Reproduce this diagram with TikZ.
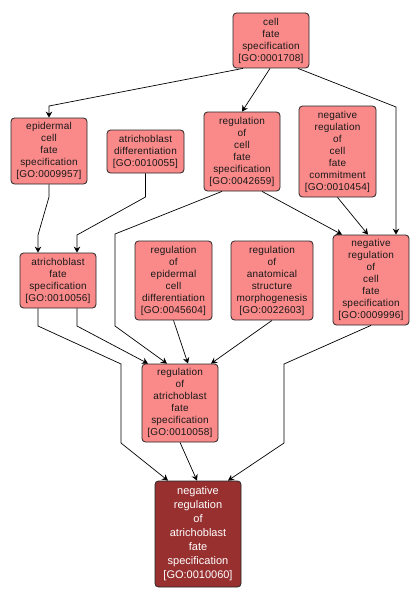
\documentclass[tikz,border=0pt]{standalone}
\usepackage{fontspec}
\setmainfont{Liberation Sans}
\newfontfamily\gofont[LetterSpace=2]{Liberation Sans}
\usetikzlibrary{arrows.meta}
\definecolor{gopink}{RGB}{250,137,137}
\definecolor{godark}{RGB}{152,48,48}
\tikzset{
  gobox/.style={draw=black!85, line width=0.8pt, rounded corners=3.5pt, fill=gopink, inner sep=0pt, align=center,
    font=\gofont\fontsize{10}{12}\selectfont, text=black!90},
  gofinal/.style={gobox, fill=godark, text=white, font=\fontsize{11}{14}\selectfont},
  golink/.style={draw=black, line width=0.7pt, -{Stealth[length=6pt,width=6.5pt,inset=2pt]}},
}
\begin{document}
\begin{tikzpicture}[x=1pt,y=-1pt]
\useasboundingbox (0,0) rectangle (420,602);
% nodes
\node[gobox, minimum width=76pt, minimum height=55pt] (n1) at (271,40.5) {cell\\fate\\specification\\{[GO:0001708]}};
\node[gobox, minimum width=76pt, minimum height=66pt] (epi) at (49,151) {epidermal\\cell\\fate\\specification\\{[GO:0009957]}};
\node[gobox, minimum width=77pt, minimum height=43pt] (adiff) at (145.5,151.5) {atrichoblast\\differentiation\\{[GO:0010055]}};
\node[gobox, minimum width=76pt, minimum height=79pt] (rcf) at (242,151.5) {regulation\\of\\cell\\fate\\specification\\{[GO:0042659]}};
\node[gobox, minimum width=77pt, minimum height=91pt] (nrcfc) at (337.5,151.5) {negative\\regulation\\of\\cell\\fate\\commitment\\{[GO:0010454]}};
\node[gobox, minimum width=76pt, minimum height=55pt] (afs) at (58,280.5) {atrichoblast\\fate\\specification\\{[GO:0010056]}};
\node[gobox, minimum width=77pt, minimum height=79pt] (red) at (173.5,280.5) {regulation\\of\\epidermal\\cell\\differentiation\\{[GO:0045604]}};
\node[gobox, minimum width=82pt, minimum height=79pt] (rasm) at (272,280.5) {regulation\\of\\anatomical\\structure\\morphogenesis\\{[GO:0022603]}};
\node[gobox, minimum width=76pt, minimum height=90pt] (nrcfs) at (371,280) {negative\\regulation\\of\\cell\\fate\\specification\\{[GO:0009996]}};
\node[gobox, minimum width=76pt, minimum height=78pt] (rafs) at (180,403) {regulation\\of\\atrichoblast\\fate\\specification\\{[GO:0010058]}};
\node[gofinal, minimum width=86pt, minimum height=106pt] (nrafs) at (198,534) {negative\\regulation\\of\\atrichoblast\\fate\\specification\\{[GO:0010060]}};
% bend points
\coordinate (b1) at (49,106);
\coordinate (b3) at (396,107);
\coordinate (b4a) at (49,197);
\coordinate (b4b) at (38,235);
\coordinate (b5a) at (145.5,197);
\coordinate (b5b) at (77,235);
\coordinate (b6a) at (115,234);
\coordinate (b6b) at (115,326);
\coordinate (b9) at (77,326);
\coordinate (b10a) at (38,326);
\coordinate (b10b) at (121,364);
\coordinate (b10c) at (121,443);
\coordinate (b13a) at (284,364);
\coordinate (b13b) at (284,443);
% edges
\draw[golink] ([xshift=-28pt]n1.south) -- (b1) -- (epi.north);
\draw[golink] ([xshift=-1pt]n1.south) -- (rcf.north);
\draw[golink] ([xshift=27pt]n1.south) -- (b3) -- ([xshift=25pt]nrcfs.north);
\draw[golink] (epi.south) -- (b4a) -- (b4b) -- ([xshift=-20pt]afs.north);
\draw[golink] (adiff.south) -- (b5a) -- (b5b) -- ([xshift=19pt]afs.north);
\draw[golink] ([xshift=-20pt]rcf.south) -- (b6a) -- (b6b) -- ([xshift=-13pt]rafs.north);
\draw[golink] ([xshift=20pt]rcf.south) -- ([xshift=-29pt]nrcfs.north);
\draw[golink] (nrcfc.south) -- ([xshift=-3pt]nrcfs.north);
\draw[golink] ([xshift=19pt]afs.south) -- (b9) -- ([xshift=-32pt]rafs.north);
\draw[golink] ([xshift=-20pt]afs.south) -- (b10a) -- (b10b) -- (b10c) -- ([xshift=-30pt]nrafs.north);
\draw[golink] (red.south) -- ([xshift=8pt]rafs.north);
\draw[golink] (rasm.south) -- ([xshift=31pt]rafs.north);
\draw[golink] (nrcfs.south) -- (b13a) -- (b13b) -- ([xshift=30pt]nrafs.north);
\draw[golink] (rafs.south) -- ([xshift=-1pt]nrafs.north);
\end{tikzpicture}
\end{document}
